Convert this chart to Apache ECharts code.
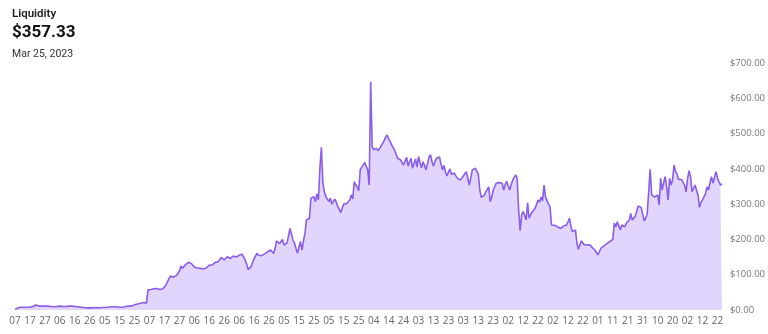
<!DOCTYPE html>
<html>
<head>
<meta charset="utf-8">
<script src="https://cdn.jsdelivr.net/npm/echarts@6/dist/echarts.min.js"></script>
<style>
html,body{margin:0;padding:0;background:#fff;}
#c{width:768px;height:334px;}
</style>
</head>
<body>
<div id="c"></div>
<script>
// First date of the series and number of days (categories are consecutive days)
const startDate = [2021, 12, 7];
const titleText = "Liquidity";
const currentValue = "$357.33";
const currentDate = "Mar 25, 2023";
const yTicks = [0, 100, 200, 300, 400, 500, 600, 700];

// Daily liquidity values (USD), Dec 7 2021 -> Mar 25 2023
const liquidity = [
  1, 3, 6, 8, 8, 8, 8, 8, 8, 8,
  8, 9, 10, 12, 14, 12, 11, 11, 11, 11,
  11, 11, 11, 10, 10, 10, 9, 9, 10, 11,
  11, 11, 10, 10, 10, 11, 11, 11, 11, 11,
  10, 9, 9, 8, 8, 7, 7, 7, 6, 6,
  6, 6, 6, 7, 7, 6, 6, 6, 7, 7,
  7, 7, 8, 9, 9, 9, 9, 10, 9, 9,
  8, 8, 8, 9, 10, 11, 11, 12, 11, 13,
  15, 16, 17, 18, 19, 20, 21, 21, 20, 57,
  60, 58, 62, 60, 59, 61, 60, 58, 62, 60,
  65, 71, 80, 88, 96, 94, 93, 95, 98, 102,
  110, 125, 118, 122, 128, 133, 135, 136, 132, 128,
  122, 118, 119, 121, 118, 120, 117, 115, 119, 123,
  127, 130, 128, 133, 135, 136, 137, 141, 149, 145,
  142, 146, 151, 148, 146, 150, 153, 151, 150, 152,
  155, 157, 158, 150, 142, 130, 115, 110, 123, 135,
  146, 150, 161, 155, 150, 154, 158, 159, 162, 165,
  164, 170, 166, 160, 175, 196, 192, 188, 194, 200,
  184, 186, 190, 210, 231, 215, 198, 190, 175, 161,
  178, 194, 170, 195, 217, 255, 258, 260, 317, 318,
  321, 307, 329, 312, 400, 461, 360, 335, 321, 318,
  307, 317, 300, 308, 314, 305, 293, 285, 276, 290,
  300, 304, 302, 300, 312, 326, 315, 364, 355, 348,
  338, 397, 405, 411, 418, 423, 397, 354, 647, 463,
  455, 460, 458, 451, 458, 465, 472, 480, 490, 496,
  485, 478, 468, 460, 453, 458, 430, 428, 425, 418,
  411, 422, 433, 408, 420, 430, 402, 415, 428, 405,
  435, 418, 402, 420, 410, 397, 415, 433, 440, 420,
  408, 420, 430, 428, 434, 415, 397, 410, 392, 380,
  378, 400, 385, 390, 388, 380, 373, 370, 368, 372,
  380, 386, 392, 397, 354, 356, 397, 400, 402, 402,
  385, 340, 319, 322, 325, 335, 342, 349, 307, 320,
  340, 350, 359, 362, 361, 360, 359, 340, 355, 365,
  352, 340, 355, 368, 376, 383, 373, 283, 225, 270,
  279, 268, 255, 304, 260, 270, 278, 283, 288, 284,
  312, 305, 320, 310, 354, 320, 317, 300, 293, 241,
  241, 240, 238, 236, 234, 231, 235, 238, 241, 241,
  250, 260, 236, 222, 225, 227, 189, 172, 185, 196,
  190, 184, 179, 185, 189, 184, 178, 174, 170, 163,
  156, 165, 175, 178, 182, 185, 188, 192, 194, 197,
  200, 246, 236, 250, 245, 227, 241, 238, 236, 246,
  250, 255, 274, 255, 260, 266, 264, 295, 292, 290,
  285, 253, 260, 272, 270, 399, 326, 331, 320, 317,
  326, 298, 373, 340, 360, 378, 350, 312, 373, 354,
  370, 411, 392, 385, 370, 372, 370, 368, 354, 335,
  372, 395, 378, 335, 345, 354, 340, 326, 291, 305,
  312, 310, 330, 349, 340, 360, 378, 360, 375, 392,
  375, 364, 354, 357.33
];

// Build day categories (one per value)
const dates = [];
{
  const d = new Date(Date.UTC(startDate[0], startDate[1] - 1, startDate[2]));
  for (let k = 0; k < liquidity.length; k++) {
    const dd = new Date(d.getTime() + k * 86400000);
    dates.push(dd.toISOString().slice(0, 10));
  }
}

const chart = echarts.init(document.getElementById('c'), null, {renderer: 'canvas'});
const font = '"Open Sans", "Noto Sans", sans-serif';
chart.setOption({
  animation: false,
  backgroundColor: '#ffffff',
  title: [
    {text: titleText, left: 7, top: 3, textStyle: {fontFamily: 'Roboto, sans-serif', fontSize: 11.5, fontWeight: 600, color: '#222'}},
    {text: currentValue, left: 7, top: 19, textStyle: {fontFamily: 'Roboto, sans-serif', fontSize: 17, fontWeight: 700, color: '#111'}},
    {text: currentDate, left: 7, top: 44, textStyle: {fontFamily: 'Roboto, sans-serif', fontSize: 10.5, fontWeight: 400, color: '#333'}}
  ],
  grid: {left: 15, right: 45, top: 63, bottom: 24, containLabel: false},
  xAxis: {
    type: 'category',
    data: dates,
    boundaryGap: false,
    axisLine: {show: false},
    axisTick: {show: false},
    splitLine: {show: false},
    axisLabel: {
      interval: 9,
      margin: 6,
      color: '#666',
      fontSize: 10,
      fontFamily: font,
      formatter: v => v.slice(8, 10)
    }
  },
  yAxis: {
    type: 'value',
    position: 'right',
    min: yTicks[0],
    max: yTicks[yTicks.length - 1],
    interval: 100,
    axisLine: {show: false},
    axisTick: {show: false},
    splitLine: {show: false},
    axisLabel: {
      margin: 8,
      color: '#777',
      fontSize: 9.5,
      fontFamily: font,
      formatter: v => '$' + v.toFixed(2)
    }
  },
  series: [{
    type: 'line',
    data: liquidity,
    showSymbol: false,
    smooth: false,
    lineStyle: {color: '#8a5ee8', width: 1.6},
    areaStyle: {color: '#e1d5fd', opacity: 1},
    itemStyle: {color: '#8a5ee8'}
  }]
});
</script>
</body>
</html>
